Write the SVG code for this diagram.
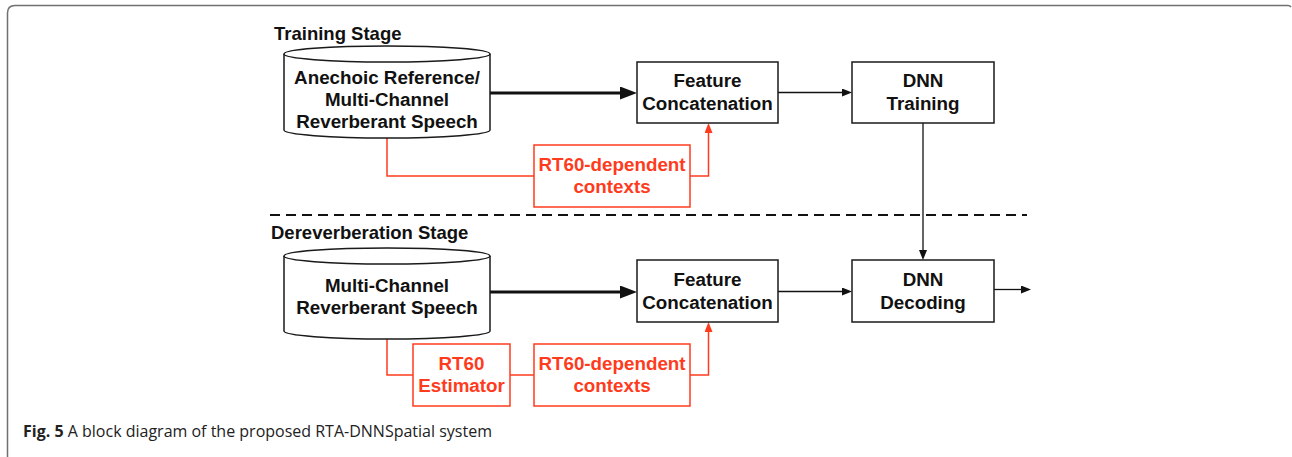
<svg xmlns="http://www.w3.org/2000/svg" width="1292" height="457" viewBox="0 0 1292 457">
<style>
.frame{fill:none;stroke:#707070;stroke-width:1.5}
.box{fill:#fff;stroke:#1a1a1a;stroke-width:1.5}
.rbox{fill:#fff;stroke:#ff3b1d;stroke-width:1.5}
.t{font-family:"Liberation Sans",Arial,Helvetica,sans-serif;font-weight:bold;font-size:18.8px;fill:#111;text-anchor:middle}
.rt{font-family:"Liberation Sans",Arial,Helvetica,sans-serif;font-weight:bold;font-size:18.8px;fill:#ff3b1d;text-anchor:middle}
.stage{font-family:"Liberation Sans",Arial,Helvetica,sans-serif;font-weight:bold;font-size:18.5px;fill:#111}
.thin{fill:none;stroke:#111;stroke-width:1.3}
.thick{fill:none;stroke:#111;stroke-width:3}
.red{fill:none;stroke:#ff3b1d;stroke-width:1.5}
.dash{fill:none;stroke:#111;stroke-width:2;stroke-dasharray:10 6}
.cap{font-family:"Open Sans","Noto Sans",sans-serif;font-size:16px;fill:#222}
</style>
<defs>
<marker id="ahThin" markerUnits="userSpaceOnUse" markerWidth="10" markerHeight="8" viewBox="0 0 10 8" refX="0" refY="4" orient="auto"><path d="M0,0 L10,4 L0,8 Z" fill="#111"/></marker>
<marker id="ahThick" markerUnits="userSpaceOnUse" markerWidth="17" markerHeight="13" viewBox="0 0 17 13" refX="0" refY="6.5" orient="auto"><path d="M0,0 L17,6.5 L0,13 Z" fill="#111"/></marker>
<marker id="ahRed" markerUnits="userSpaceOnUse" markerWidth="10" markerHeight="8" viewBox="0 0 10 8" refX="0" refY="4" orient="auto"><path d="M0,0 L10,4 L0,8 Z" fill="#ff3b1d"/></marker>
</defs>

<path class="frame" d="M7.5,457 V13 Q7.5,5.5 15,5.5 H1288 Q1290,5.5 1291,7"/>

<text class="stage" x="274" y="40">Training Stage</text>
<text class="stage" x="271" y="239">Dereverberation Stage</text>

<path class="dash" d="M270,215 H1027"/>

<g id="connectors">
  <path class="thick" d="M490,93 H620" marker-end="url(#ahThick)"/>
  <path class="thin" d="M778,92.5 H842" marker-end="url(#ahThin)"/>
  <path class="thin" d="M923,123 V250" marker-end="url(#ahThin)"/>
  <path class="red" d="M387,138 V176 H534"/>
  <path class="red" d="M690,176 H708.5 V133" marker-end="url(#ahRed)"/>
  <path class="thick" d="M490,292 H620" marker-end="url(#ahThick)"/>
  <path class="thin" d="M778,291.5 H842" marker-end="url(#ahThin)"/>
  <path class="thin" d="M994,289.5 H1021" marker-end="url(#ahThin)"/>
  <path class="red" d="M387,339 V375 H413"/>
  <path class="red" d="M510,375 H534"/>
  <path class="red" d="M690,375 H708.5 V332" marker-end="url(#ahRed)"/>
</g>

<g id="db-train">
  <path class="box" d="M284,54 A103,8 0 0 1 490,54 V130 A103,8 0 0 1 284,130 Z"/>
  <path class="box" fill="none" d="M284,54 A103,8 0 0 0 490,54"/>
  <text class="t" x="387" y="84">Anechoic Reference/</text>
  <text class="t" x="387" y="106">Multi-Channel</text>
  <text class="t" x="387" y="128">Reverberant Speech</text>
</g>

<g id="feat-train">
  <rect class="box" x="637" y="62" width="141" height="61"/>
  <text class="t" x="707.5" y="87">Feature</text>
  <text class="t" x="707.5" y="110">Concatenation</text>
</g>

<g id="dnn-train">
  <rect class="box" x="852" y="62" width="142" height="61"/>
  <text class="t" x="923" y="87">DNN</text>
  <text class="t" x="923" y="110">Training</text>
</g>

<g id="ctx-train">
  <rect class="rbox" x="534" y="145" width="156" height="62"/>
  <text class="rt" x="612" y="171">RT60-dependent</text>
  <text class="rt" x="612" y="193">contexts</text>
</g>

<g id="db-derev">
  <path class="box" d="M284,256 A103,8 0 0 1 490,256 V331 A103,8 0 0 1 284,331 Z"/>
  <path class="box" fill="none" d="M284,256 A103,8 0 0 0 490,256"/>
  <text class="t" x="387" y="292">Multi-Channel</text>
  <text class="t" x="387" y="314">Reverberant Speech</text>
</g>

<g id="feat-derev">
  <rect class="box" x="637" y="260" width="141" height="62"/>
  <text class="t" x="707.5" y="286">Feature</text>
  <text class="t" x="707.5" y="309">Concatenation</text>
</g>

<g id="dnn-decode">
  <rect class="box" x="852" y="260" width="142" height="62"/>
  <text class="t" x="923" y="286">DNN</text>
  <text class="t" x="923" y="309">Decoding</text>
</g>

<g id="rt60-est">
  <rect class="rbox" x="413" y="344" width="97" height="62"/>
  <text class="rt" x="461.5" y="370">RT60</text>
  <text class="rt" x="461.5" y="392">Estimator</text>
</g>

<g id="ctx-derev">
  <rect class="rbox" x="534" y="344" width="156" height="62"/>
  <text class="rt" x="612" y="370">RT60-dependent</text>
  <text class="rt" x="612" y="392">contexts</text>
</g>

<text class="cap" x="23" y="437"><tspan font-weight="bold">Fig. 5</tspan> A block diagram of the proposed RTA-DNNSpatial system</text>
</svg>
